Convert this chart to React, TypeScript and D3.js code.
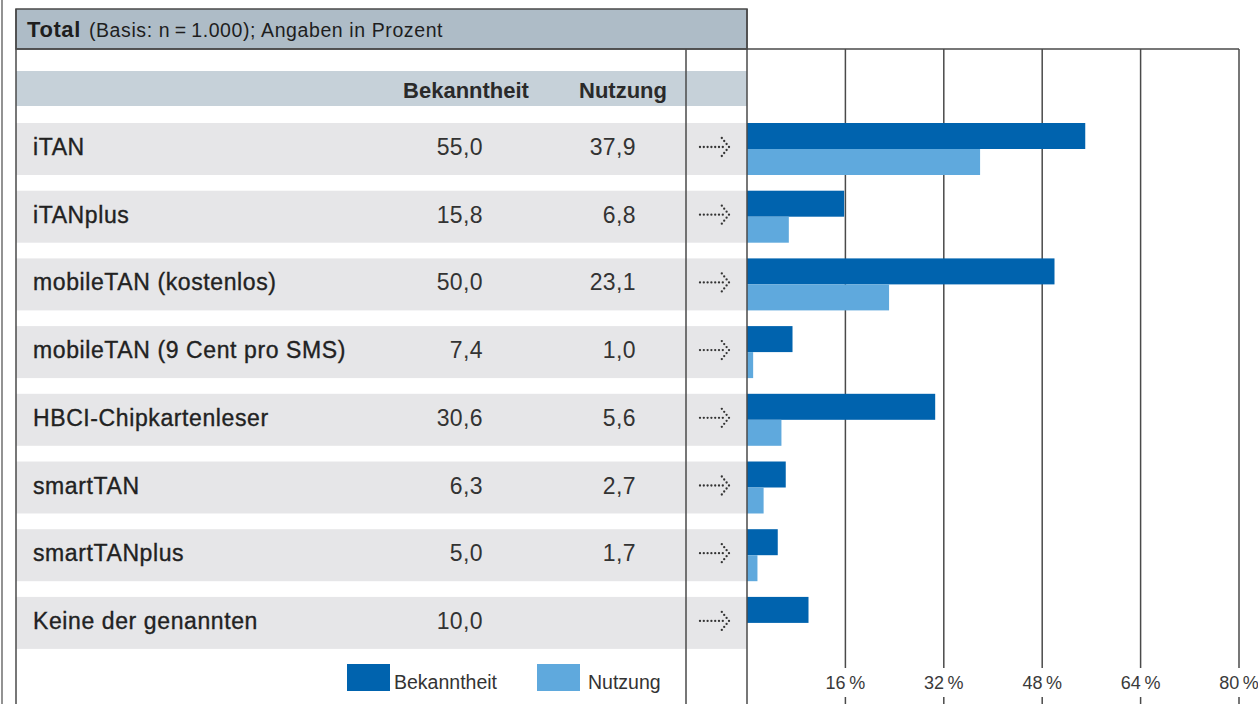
import React from "react";
import * as d3 from "d3";

const categories = [
  "iTAN",
  "iTANplus",
  "mobileTAN (kostenlos)",
  "mobileTAN (9 Cent pro SMS)",
  "HBCI-Chipkartenleser",
  "smartTAN",
  "smartTANplus",
  "Keine der genannten",
];
const bekanntheit = [55.0, 15.8, 50.0, 7.4, 30.6, 6.3, 5.0, 10.0];
const nutzung: (number | null)[] = [37.9, 6.8, 23.1, 1.0, 5.6, 2.7, 1.7, null];
const ticks = [16, 32, 48, 64, 80];
const seriesNames = ["Bekanntheit", "Nutzung"];

const W = 1258,
  H = 704;
const DARK = "#0063ae",
  LIGHT = "#5fa9dd",
  LINE = "#4a4a4a";
const FONT = "'Liberation Sans', Arial, Helvetica, sans-serif";

const de = d3.formatLocale({ decimal: ",", thousands: ".", grouping: [3], currency: ["", "€"] });
const fmt = de.format(".1f");

// dotted arrow: a dotted shaft and a dotted chevron
const arrowDots = (cy: number): [number, number][] => {
  const dots: [number, number][] = [];
  for (let i = 0; i < 7; i++) dots.push([700 + i * 3.8, cy]);
  for (let k = -3; k <= 3; k++) dots.push([729 - Math.abs(k) * 2.4, cy + k * 3]);
  return dots;
};

export default function App() {
  // scales
  const x = d3.scaleLinear().domain([0, 80]).range([747, 1239]);
  const y = d3
    .scaleBand<string>()
    .domain(categories)
    .range([115.15, 656.75])
    .paddingInner(0.232)
    .paddingOuter(0.116);
  const sub = d3.scaleBand<string>().domain(seriesNames).range([0, y.bandwidth()]);

  return (
    <svg width={W} height={H} style={{ position: "absolute", left: 0, top: 0, background: "#fff" }} fontFamily={FONT}>
      <rect x={0} y={0} width={W} height={H} fill="#fff" />

      {/* header box */}
      <rect x={16} y={9} width={731} height={40} fill="#aebcc7" stroke={LINE} strokeWidth={1.5} />
      <text x={27} y={37} fill="#1e1e1e">
        <tspan fontSize={22} fontWeight="bold" letterSpacing={0.6}>Total</tspan>
        <tspan fontSize={19.5} dx={8} letterSpacing={0.6}>(Basis: n{"\u2009=\u2009"}1.000); Angaben in Prozent</tspan>
      </text>

      {/* column header band */}
      <rect x={16} y={71} width={731} height={35} fill="#c6d1d9" />
      <text x={466} y={98} textAnchor="middle" fontSize={22} fontWeight="bold" fill="#2a2a2a">
        Bekanntheit
      </text>
      <text x={623} y={98} textAnchor="middle" fontSize={22} fontWeight="bold" fill="#2a2a2a">
        Nutzung
      </text>

      {/* row bands, labels, values */}
      {categories.map((c, i) => {
        const y0 = y(c)!;
        const cy = y0 + y.bandwidth() / 2;
        const n = nutzung[i];
        return (
          <g key={c}>
            <rect x={16} y={y0} width={731} height={y.bandwidth()} fill="#e6e6e8" />
            <text
              x={33}
              y={cy + 6}
              fontSize={23}
              letterSpacing={0.6}
              fill="#222"
              stroke="#222"
              strokeWidth={0.35}
            >
              {c}
            </text>
            <text x={483} y={cy + 6} textAnchor="end" fontSize={23} letterSpacing={0.4} fill="#333">
              {fmt(bekanntheit[i])}
            </text>
            {n != null && (
              <text x={636} y={cy + 6} textAnchor="end" fontSize={23} letterSpacing={0.4} fill="#333">
                {fmt(n)}
              </text>
            )}
            {arrowDots(cy - 2).map(([ax, ay], k) => (
              <circle key={k} cx={ax} cy={ay} r={1.15} fill="#333" />
            ))}
          </g>
        );
      })}

      {/* grid lines */}
      {ticks.map(t => (
        <g key={t}>
          <line x1={x(t)} x2={x(t)} y1={49} y2={668} stroke={LINE} strokeWidth={1.5} />
          <line x1={x(t)} x2={x(t)} y1={697} y2={H} stroke={LINE} strokeWidth={1.5} />
          <text x={x(t)} y={689} textAnchor="middle" fontSize={18} fill="#3a3a3a">
            {t}
            {"\u2009%"}
          </text>
        </g>
      ))}

      {/* bars */}
      {categories.map((c, i) => {
        const y0 = y(c)!;
        const n = nutzung[i];
        return (
          <g key={"b" + c}>
            <rect
              x={x(0)}
              y={y0 + sub("Bekanntheit")!}
              width={x(bekanntheit[i]) - x(0)}
              height={sub.bandwidth()}
              fill={DARK}
            />
            {n != null && (
              <rect
                x={x(0)}
                y={y0 + sub("Nutzung")!}
                width={x(n) - x(0)}
                height={sub.bandwidth()}
                fill={LIGHT}
              />
            )}
          </g>
        );
      })}

      {/* frame lines */}
      <line x1={2} x2={2} y1={0} y2={H} stroke={LINE} strokeWidth={1.2} />
      <line x1={16} x2={16} y1={9} y2={H} stroke={LINE} strokeWidth={1.5} />
      <line x1={16} x2={1239} y1={49} y2={49} stroke={LINE} strokeWidth={1.5} />
      <line x1={686} x2={686} y1={49} y2={H} stroke={LINE} strokeWidth={1.5} />
      <line x1={747} x2={747} y1={9} y2={H} stroke={LINE} strokeWidth={1.5} />

      {/* legend */}
      <rect x={347} y={664} width={43} height={27} fill={DARK} />
      <text x={394} y={689} fontSize={19.5} fill="#333">
        Bekanntheit
      </text>
      <rect x={537} y={664} width={43} height={27} fill={LIGHT} />
      <text x={588} y={689} fontSize={19.5} fill="#333">
        Nutzung
      </text>
    </svg>
  );
}
